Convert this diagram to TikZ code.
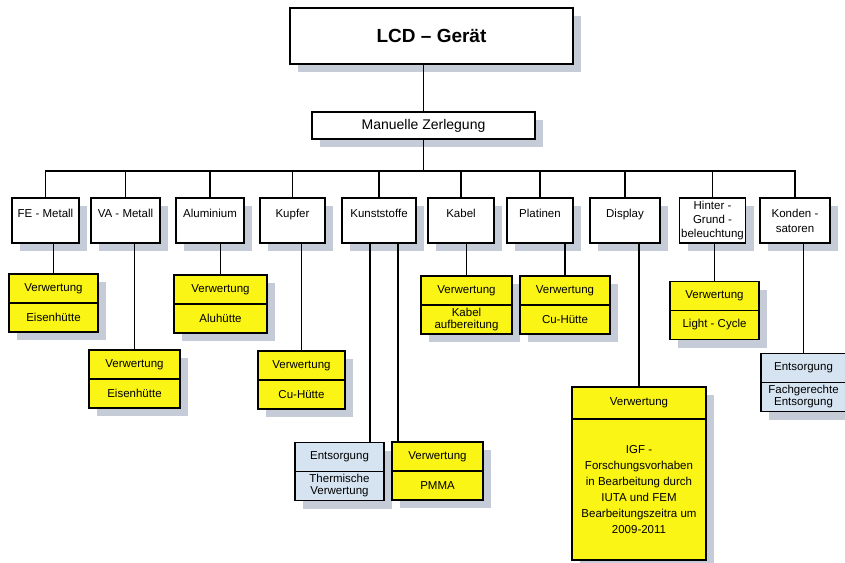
\documentclass[tikz,border=0pt]{standalone}
\usepackage{fontspec}
\setmainfont{Liberation Sans}
\usetikzlibrary{positioning, shadows}
\definecolor{gelb}{RGB}{250,245,20}
\definecolor{hellblau}{RGB}{214,228,242}
\definecolor{schatten}{RGB}{198,203,216}

\begin{document}
\begin{tikzpicture}[
						x=1pt, y=-1pt,
						line width=1.7pt,
						node distance={-1.7pt},
						schattig/.style = {drop shadow={shadow xshift=8pt, shadow yshift=-8pt, fill=schatten, opacity=1}},
						topbox/.style = {draw, fill=white, schattig, inner sep=0pt, minimum height=45pt, align=center, font=\fontsize{11.5}{15}\selectfont},
						ybox/.style = {draw, fill=gelb, schattig, inner sep=0pt, minimum height=29pt, align=center, font=\fontsize{11.5}{12}\selectfont},
						lbox/.style = {draw, fill=hellblau, schattig, inner sep=0pt, minimum height=29pt, align=center, font=\fontsize{11.5}{12}\selectfont}
					]
\useasboundingbox (0,0) rectangle (845,562);

\node[draw, fill=white, schattig, line width=2pt, minimum width=283pt, minimum height=56pt, font=\bfseries\fontsize{19}{22}\selectfont] (lcd) at (431.5,36) {LCD – Gerät};
\node[draw, fill=white, schattig, minimum width=223pt, minimum height=27pt, font=\fontsize{14}{15}\selectfont] (zerl) at (423.5,125.5) {Manuelle Zerlegung};

% erste Ebene
\node[topbox, minimum width=67pt] (fe) at (45.5,220.5) {FE - Metall\\ \phantom{X}};
\node[topbox, minimum width=69pt] (va) at (125.5,220.5) {VA - Metall\\ \phantom{X}};
\node[topbox, minimum width=68pt] (alu) at (210,220.5) {Aluminium\\ \phantom{X}};
\node[topbox, minimum width=65pt] (kupfer) at (292.5,220.5) {Kupfer\\ \phantom{X}};
\node[topbox, minimum width=74pt] (kunst) at (379,220.5) {Kunststoffe\\ \phantom{X}};
\node[topbox, minimum width=66pt] (kabel) at (461,220.5) {Kabel\\ \phantom{X}};
\node[topbox, minimum width=66pt] (platin) at (540,220.5) {Platinen\\ \phantom{X}};
\node[topbox, minimum width=70pt] (display) at (625,220.5) {Display\\ \phantom{X}};
\node[topbox, minimum width=66pt, font=\fontsize{11.5}{14}\selectfont] (hinter) at (712.5,220.5) {Hinter -\\Grund -\\beleuchtung};
\node[topbox, minimum width=70pt] (konden) at (795,220.5) {Konden -\\satoren};

% Verwertung / Entsorgung
\node[ybox, minimum width=89pt] (fe1) at (53.5,288.5) {Verwertung};
\node[ybox, minimum width=89pt] (fe2) [below=of fe1] {Eisenhütte};
\node[ybox, minimum width=91pt] (va1) at (134.5,364.5) {Verwertung};
\node[ybox, minimum width=91pt] (va2) [below=of va1] {Eisenhütte};
\node[ybox, minimum width=93pt] (alu1) at (220.5,289.5) {Verwertung};
\node[ybox, minimum width=93pt] (alu2) [below=of alu1] {Aluhütte};
\node[ybox, minimum width=87pt] (kupfer1) at (301.5,365.5) {Verwertung};
\node[ybox, minimum width=87pt] (kupfer2) [below=of kupfer1] {Cu-Hütte};
\node[lbox, minimum width=89pt] (kent1) at (339.5,457) {Entsorgung};
\node[lbox, minimum width=89pt] (kent2) [below=of kent1] {Thermische\\Verwertung};
\node[ybox, minimum width=91pt] (kver1) at (437.5,456.5) {Verwertung};
\node[ybox, minimum width=91pt] (kver2) [below=of kver1] {PMMA};
\node[ybox, minimum width=91pt] (kabel1) at (466.5,290.5) {Verwertung};
\node[ybox, minimum width=91pt] (kabel2) [below=of kabel1] {Kabel\\aufbereitung};
\node[ybox, minimum width=90pt] (platin1) at (565,290.5) {Verwertung};
\node[ybox, minimum width=90pt] (platin2) [below=of platin1] {Cu-Hütte};
\node[ybox, minimum width=134pt, minimum height=32pt] (display1) at (639,403) {Verwertung};
\node[ybox, minimum width=134pt, minimum height=141pt, font=\fontsize{11.5}{16}\selectfont] (display2) [below=of display1] {IGF -\\Forschungsvorhaben\\in Bearbeitung durch\\IUTA und FEM\\Bearbeitungszeitra um\\2009-2011};
\node[ybox, minimum width=89pt] (hinter1) at (714.5,296) {Verwertung};
\node[ybox, minimum width=89pt] (hinter2) [below=of hinter1] {Light - Cycle};
\node[lbox, minimum width=85pt] (konden1) at (803.5,368) {Entsorgung};
\node[lbox, minimum width=85pt] (konden2) [below=of konden1] {Fachgerechte\\Entsorgung};

% Verbindungen
\coordinate (bus) at (0,171);
\draw (lcd.south -| zerl.north) -- (zerl.north);
\foreach \k in {fe,va,alu,kupfer,kunst,kabel,platin,display,hinter,konden}
	\draw (zerl.south) |- (bus -| \k.north) -- (\k.north);
\foreach \k in {fe,va,alu,kupfer,kabel,platin,display,hinter,konden}
	\draw (\k1.north) -- (\k1.north |- \k.south);
\draw ([xshift=-9pt]kunst.south) -- ([xshift=-9pt]kunst.south |- kent1.north);
\draw ([xshift=19pt]kunst.south) -- ([xshift=19pt]kunst.south |- kver1.north);
\end{tikzpicture}
\end{document}
